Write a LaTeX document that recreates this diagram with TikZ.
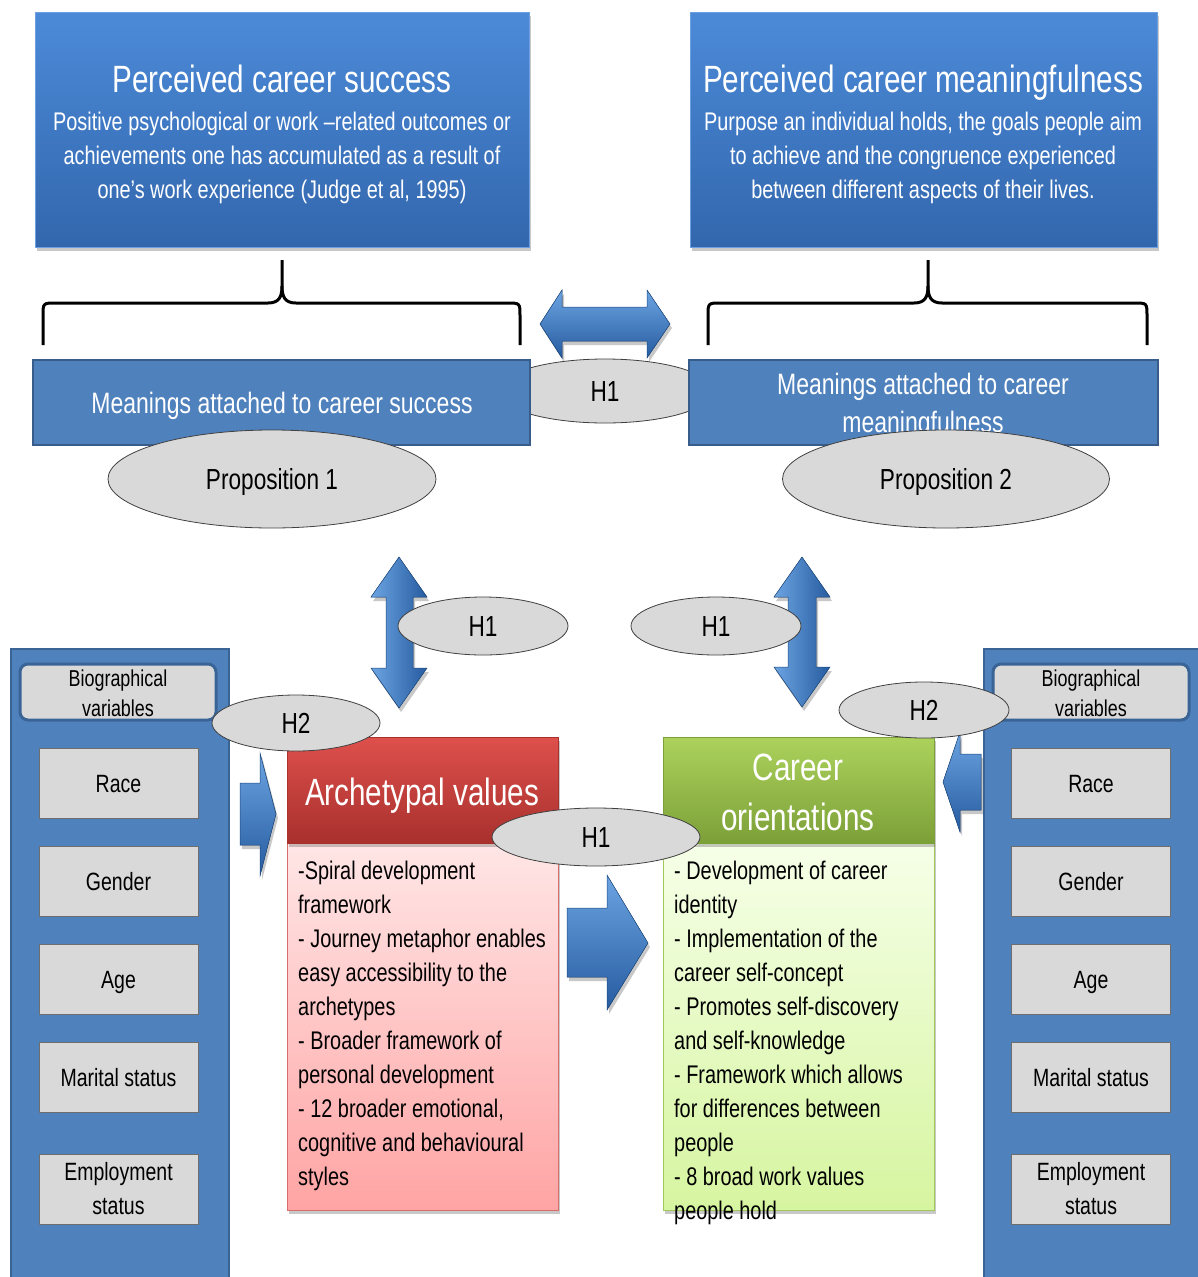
\documentclass[tikz,border=0pt]{standalone}
\usepackage{fontspec}
\setmainfont[FakeStretch=0.78]{Liberation Sans}
\usetikzlibrary{shapes.geometric,shadows}

\definecolor{topA}{RGB}{76,138,216}
\definecolor{topB}{RGB}{50,103,173}
\definecolor{topEdge}{RGB}{110,160,225}
\definecolor{midblue}{RGB}{79,129,189}
\definecolor{midedge}{RGB}{56,93,138}
\definecolor{coledge}{RGB}{58,100,150}
\definecolor{lightgray}{RGB}{217,217,217}
\definecolor{itemedge}{RGB}{110,110,110}
\definecolor{arrA}{RGB}{108,164,226}
\definecolor{arrB}{RGB}{38,92,160}
\definecolor{redA}{RGB}{222,80,76}
\definecolor{redB}{RGB}{168,48,45}
\definecolor{pinkA}{RGB}{255,230,230}
\definecolor{pinkB}{RGB}{255,164,164}
\definecolor{pinkedge}{RGB}{214,110,108}
\definecolor{grnA}{RGB}{172,210,92}
\definecolor{grnB}{RGB}{124,160,56}
\definecolor{limeA}{RGB}{246,255,232}
\definecolor{limeB}{RGB}{214,245,160}
\definecolor{limeedge}{RGB}{160,200,90}

\begin{document}
\begin{tikzpicture}[x=1pt,y=-1pt,
  shade/.style={drop shadow={shadow xshift=2pt,shadow yshift=-4pt,opacity=.3,fill=black!70}},
  topbox/.style={rectangle,inner sep=0pt,top color=topA,bottom color=topB,draw=topEdge,line width=1pt,shade},
  titletext/.style={text=white,font=\fontsize{38}{44}\selectfont,inner sep=0pt},
  subtext/.style={text=white,font=\fontsize{25.5}{34}\selectfont,inner sep=0pt},
  midbox/.style={rectangle,inner sep=0pt,fill=midblue,draw=midedge,line width=2pt},
  midtext/.style={text=white,font=\fontsize{29.5}{38}\selectfont,inner sep=0pt},
  brace/.style={draw=black,line width=3pt},
  ell/.style={ellipse,fill=lightgray,draw=black!75,line width=0.8pt,inner sep=0pt,
    font=\fontsize{29}{34}\selectfont,text height=21pt,text depth=0pt},
  colbox/.style={rectangle,inner sep=0pt,fill=midblue,draw=coledge,line width=2pt},
  biohead/.style={rectangle,rounded corners=8pt,inner sep=0pt,fill=lightgray,draw=coledge,line width=3pt,
    minimum width=196pt,minimum height=56pt},
  biotext/.style={font=\fontsize{23}{28}\selectfont,inner sep=0pt},
  item/.style={rectangle,inner sep=0pt,fill=lightgray,draw=itemedge,line width=0.8pt,
    minimum width=159pt,minimum height=70pt,font=\fontsize{25}{34}\selectfont,align=center},
  itemone/.style={item,text height=18pt,text depth=0pt},
  harrow/.style={top color=arrA,bottom color=arrB,draw=arrB!80!black,line width=0.5pt,shade},
  varrow/.style={left color=arrA,right color=arrB,draw=arrB!80!black,line width=0.5pt,shade},
  headtext/.style={text=white,font=\fontsize{38}{50}\selectfont,inner sep=0pt},
  bodytext/.style={font=\fontsize{25.5}{34}\selectfont,inner sep=0pt}
]
\useasboundingbox (0,0) rectangle (1198,1277);
\fill[white] (0,0) rectangle (1198,1277);

% ---------- top definition boxes ----------
\node[topbox,minimum width=494pt,minimum height=235pt] (pcs) at (282,129.5) {};
\node[titletext,anchor=base] (pcsT) at (282,92.5) {Perceived career success};
\foreach \t [count=\i from 0] in {{Positive psychological or work –related outcomes or},
  {achievements one has accumulated as a result of},
  {one’s work experience (Judge et al, 1995)}}
  \node[subtext,anchor=base] (pcsL\i) at (282,130+34*\i) {\t};

\node[topbox,minimum width=467pt,minimum height=235pt] (pcm) at (923.5,129.5) {};
\node[titletext,anchor=base] (pcmT) at (923,92.5) {Perceived career meaningfulness};
\foreach \t [count=\i from 0] in {{Purpose an individual holds, the goals people aim},
  {to achieve and the congruence experienced},
  {between different aspects of their lives.}}
  \node[subtext,anchor=base] (pcmL\i) at (923,130+34*\i) {\t};

% ---------- braces ----------
\draw[brace] (43,345) -- (43,316) .. controls (43,303) .. (56,303) -- (268,303)
  .. controls (279,303) and (282,297) .. (282,286) -- (282,260);
\draw[brace] (282,286) .. controls (282,297) and (285,303) .. (296,303) -- (507,303)
  .. controls (520,303) .. (520,316) -- (520,345);
\draw[brace] (708,345) -- (708,316) .. controls (708,303) .. (721,303) -- (914,303)
  .. controls (925,303) and (928,297) .. (928,286) -- (928,260);
\draw[brace] (928,286) .. controls (928,297) and (931,303) .. (942,303) -- (1134,303)
  .. controls (1147,303) .. (1147,316) -- (1147,345);

% ---------- horizontal double arrow ----------
\filldraw[harrow] (540,324) -- (562,290) -- (562,307) -- (647,307) -- (647,290) -- (670,324)
  -- (647,358) -- (647,341) -- (562,341) -- (562,358) -- cycle;

% ---------- meanings boxes ----------
\node[ell,minimum width=216pt,minimum height=64pt] (h1m) at (605,391) {H1};
\node[midbox,minimum width=497pt,minimum height=85pt] (mcs) at (281.5,402.5) {};
\node[midtext,anchor=base] (mcsT) at (282,413) {Meanings attached to career success};
\node[midbox,minimum width=469pt,minimum height=85pt] (mcm) at (923.5,402.5) {};
\node[midtext,anchor=base] (mcmT1) at (923,394) {Meanings attached to career};
\node[midtext,anchor=base] (mcmT2) at (923,432) {meaningfulness};

\node[ell,minimum width=328pt,minimum height=98pt] (p1) at (272,479) {Proposition 1};
\node[ell,minimum width=327pt,minimum height=98pt] (p2) at (946,479) {Proposition 2};

% ---------- vertical double arrows ----------
\filldraw[varrow] (399,557) -- (427,597) -- (413,597) -- (413,668) -- (427,668) -- (399,708)
  -- (371,668) -- (386,668) -- (386,597) -- (371,597) -- cycle;
\filldraw[varrow] (802,557) -- (830,597) -- (816,597) -- (816,667) -- (830,667) -- (802,707)
  -- (774,667) -- (788,667) -- (788,597) -- (774,597) -- cycle;
\node[ell,minimum width=170pt,minimum height=58pt] (h1l) at (483,626) {H1};
\node[ell,minimum width=170pt,minimum height=58pt] (h1r) at (716,626) {H1};

% ---------- biographical columns ----------
\node[colbox,minimum width=218pt,minimum height=640pt,anchor=north west] (colL) at (10,648) {};
\node[biohead] (bhL) at (118,692) {};
\node[biotext,anchor=base] (bhLa) at (118,686) {Biographical};
\node[biotext,anchor=base] (bhLb) at (118,716) {variables};
\node[itemone] (raceL) at (118.5,783) {Race};
\node[itemone] (genL) at (118.5,881) {Gender};
\node[itemone] (ageL) at (118.5,979) {Age};
\node[itemone] (marL) at (118.5,1077) {Marital status};
\node[item] (empL) at (118.5,1189) {Employment\\status};

\node[colbox,minimum width=218pt,minimum height=640pt,anchor=north west] (colR) at (983,648) {};
\node[biohead] (bhR) at (1091,692) {};
\node[biotext,anchor=base] (bhRa) at (1091,686) {Biographical};
\node[biotext,anchor=base] (bhRb) at (1091,716) {variables};
\node[itemone] (raceR) at (1091,783) {Race};
\node[itemone] (genR) at (1091,881) {Gender};
\node[itemone] (ageR) at (1091,979) {Age};
\node[itemone] (marR) at (1091,1077) {Marital status};
\node[item] (empR) at (1091,1189) {Employment\\status};

% ---------- arrows from the biographical columns ----------
\filldraw[harrow] (240,783) -- (260,783) -- (260,753) -- (276,814) -- (260,876) -- (260,845)
  -- (240,845) -- cycle;
\filldraw[harrow] (981,754) -- (960,754) -- (960,732) -- (943,782) -- (960,832) -- (960,810)
  -- (981,810) -- cycle;

% ---------- archetypal values ----------
\node[rectangle,inner sep=0pt,minimum width=271pt,minimum height=367pt,
  top color=pinkA,bottom color=pinkB,draw=pinkedge,line width=1pt,shade] (avB) at (422.5,1026.5) {};
\node[rectangle,inner sep=0pt,minimum width=271pt,minimum height=106pt,
  top color=redA,bottom color=redB,draw=redB,line width=0.6pt,shade] (avH) at (422.5,790) {};
\node[headtext,anchor=base] (avT) at (422,805) {Archetypal values};
\foreach \t [count=\i from 0] in {{-Spiral development},{framework},
  {- Journey metaphor enables},{easy accessibility to the},{archetypes},
  {- Broader framework of},{personal development},{- 12 broader emotional,},
  {cognitive and behavioural},{styles}}
  \node[bodytext,anchor=base west] (av\i) at (298,879+34*\i) {\t};

% ---------- career orientations ----------
\node[rectangle,inner sep=0pt,minimum width=271pt,minimum height=367pt,
  top color=limeA,bottom color=limeB,draw=limeedge,line width=1pt,shade] (coB) at (798.5,1026.5) {};
\node[rectangle,inner sep=0pt,minimum width=271pt,minimum height=106pt,
  top color=grnA,bottom color=grnB,draw=grnB,line width=0.6pt,shade] (coH) at (798.5,790) {};
\node[headtext,anchor=base] (coT1) at (798,780) {Career};
\node[headtext,anchor=base] (coT2) at (798,830) {orientations};
\foreach \t [count=\i from 0] in {{- Development of career},{identity},
  {- Implementation of the},{career self-concept},{- Promotes self-discovery},
  {and self-knowledge},{- Framework which allows},{for differences between},
  {people},{- 8 broad work values},{people hold}}
  \node[bodytext,anchor=base west] (co\i) at (674,879+34*\i) {\t};

% ---------- hypothesis labels ----------
\node[ell,minimum width=168pt,minimum height=56pt] (h2l) at (296,723) {H2};
\node[ell,minimum width=170pt,minimum height=56pt] (h2r) at (924,710) {H2};
\node[ell,minimum width=208pt,minimum height=58pt] (h1c) at (596,837) {H1};

% ---------- block arrow between the two frameworks ----------
\filldraw[harrow] (567,908) -- (607,908) -- (607,875) -- (648,943) -- (607,1010) -- (607,977)
  -- (567,977) -- cycle;
\end{tikzpicture}
\end{document}
